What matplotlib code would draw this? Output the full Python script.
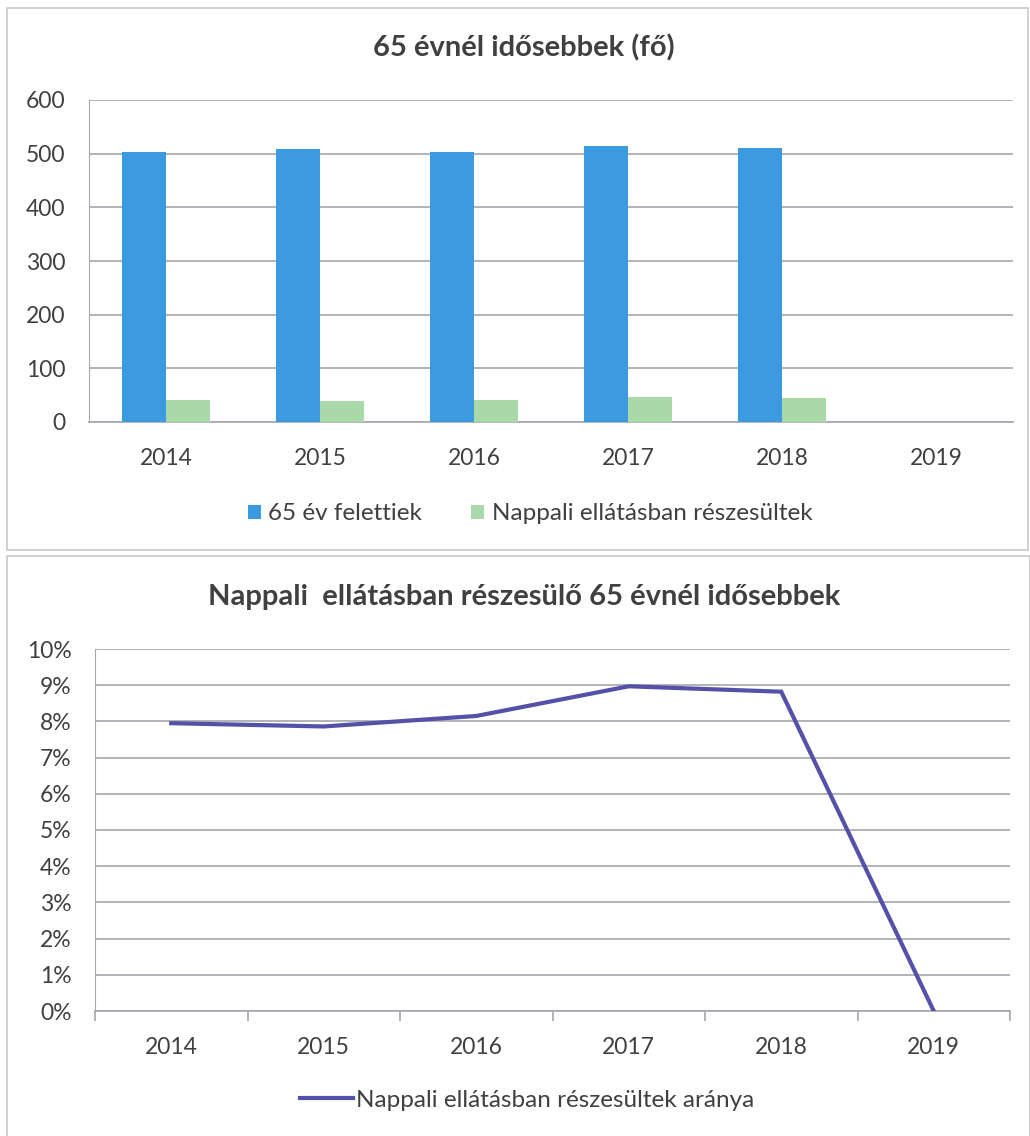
import matplotlib
matplotlib.use("Agg")
import matplotlib.pyplot as plt
from matplotlib.patches import Rectangle
from matplotlib.ticker import PercentFormatter
import numpy as np

years = ["2014", "2015", "2016", "2017", "2018", "2019"]
over65 = [503, 509, 503, 514, 510, 0]
day_care = [41, 40, 41, 46, 45, 0]
ratio = [0.0795, 0.0786, 0.0815, 0.0897, 0.0882, 0.0]

title_top = "65 évnél idősebbek (fő)"
title_bottom = "Nappali  ellátásban részesülő 65 évnél idősebbek"
label_over65 = "65 év felettiek"
label_daycare = "Nappali ellátásban részesültek"
label_ratio = "Nappali ellátásban részesültek aránya"

plt.rcParams['font.family'] = ['Lato', 'DejaVu Sans']

W, H = 1030, 1136
fig = plt.figure(figsize=(W / 100, H / 100), dpi=100)
fig.patch.set_facecolor("white")

def fx(px):
    return px / W

def fy(py):
    return 1 - py / H

text_col = "#404040"
grid_col = "#A6A6AE"
blue = "#3C9BE0"
green = "#A9D8A9"
line_col = "#5451A8"
border_col = "#C8C8C8"

# panel borders
fig.add_artist(Rectangle((fx(7), fy(550)), fx(1028) - fx(7), fy(8) - fy(550),
                         transform=fig.transFigure, fill=False, ec=border_col, lw=1.2))
fig.add_artist(Rectangle((fx(7), fy(1140)), fx(1030) - fx(7), fy(556) - fy(1140),
                         transform=fig.transFigure, fill=False, ec=border_col, lw=1.2))

# ---------- top chart ----------
ax1 = fig.add_axes([fx(89), fy(422), fx(1013) - fx(89), fy(100) - fy(422)])
x = np.arange(len(years))
bw = 0.285
b1 = ax1.bar(x - bw / 2, over65, width=bw, color=blue, label=label_over65, zorder=3)
b2 = ax1.bar(x + bw / 2, day_care, width=bw, color=green, label=label_daycare, zorder=3)
ax1.set_xlim(-0.5, len(years) - 0.5)
ax1.set_ylim(0, 600)
ax1.set_yticks(range(0, 601, 100))
ax1.set_xticks(x)
ax1.set_xticklabels(years)
ax1.yaxis.grid(True, color=grid_col, lw=1.2, zorder=0)
for s in ["top", "right"]:
    ax1.spines[s].set_visible(False)
ax1.spines["left"].set_color(grid_col)
ax1.spines["bottom"].set_color(grid_col)
ax1.spines["bottom"].set_linewidth(1.2)
ax1.tick_params(axis="both", length=0, labelsize=16.5, colors=text_col)
ax1.tick_params(axis="y", pad=17)
ax1.tick_params(axis="x", pad=19)
fig.text(fx(524), fy(48), title_top, ha="center", va="center",
         fontsize=21, fontweight="bold", color=text_col)
fig.legend(handles=[b1, b2], labels=[label_over65, label_daycare],
           loc="center", bbox_to_anchor=(fx(530), fy(514)), ncol=2, frameon=False,
           fontsize=17.5, labelcolor=text_col, handlelength=0.55, handleheight=0.55,
           handletextpad=0.3, columnspacing=2.0)

# ---------- bottom chart ----------
ax2 = fig.add_axes([fx(95), fy(1011), fx(1010) - fx(95), fy(649) - fy(1011)])
ln, = ax2.plot(x, ratio, color=line_col, lw=3.0, label=label_ratio, zorder=3,
               solid_joinstyle="miter")
ax2.set_xlim(-0.5, len(years) - 0.5)
ax2.set_ylim(0, 0.10)
ax2.set_yticks(np.arange(0, 0.1001, 0.01))
ax2.yaxis.set_major_formatter(PercentFormatter(1.0, decimals=0))
ax2.set_xticks(x)
ax2.set_xticklabels(years)
ax2.set_xticks(np.arange(-0.5, len(years), 1.0), minor=True)
ax2.yaxis.grid(True, color=grid_col, lw=1.2, zorder=0)
for s in ["top", "right"]:
    ax2.spines[s].set_visible(False)
ax2.spines["left"].set_color(grid_col)
ax2.spines["bottom"].set_color(grid_col)
ax2.spines["bottom"].set_linewidth(1.2)
ax2.tick_params(axis="both", which="major", length=0, labelsize=16.5, colors=text_col)
ax2.tick_params(axis="x", which="minor", length=7, color=grid_col, width=1.2)
ax2.tick_params(axis="y", pad=17)
ax2.tick_params(axis="x", which="major", pad=19)
fig.text(fx(524), fy(597), title_bottom, ha="center", va="center",
         fontsize=21, fontweight="bold", color=text_col)
fig.legend(handles=[ln], labels=[label_ratio], loc="center",
           bbox_to_anchor=(fx(527), fy(1100)), frameon=False, fontsize=17.5,
           labelcolor=text_col, handlelength=2.2, handletextpad=0.1)

fig.savefig("out.png", dpi=100, facecolor="white")
